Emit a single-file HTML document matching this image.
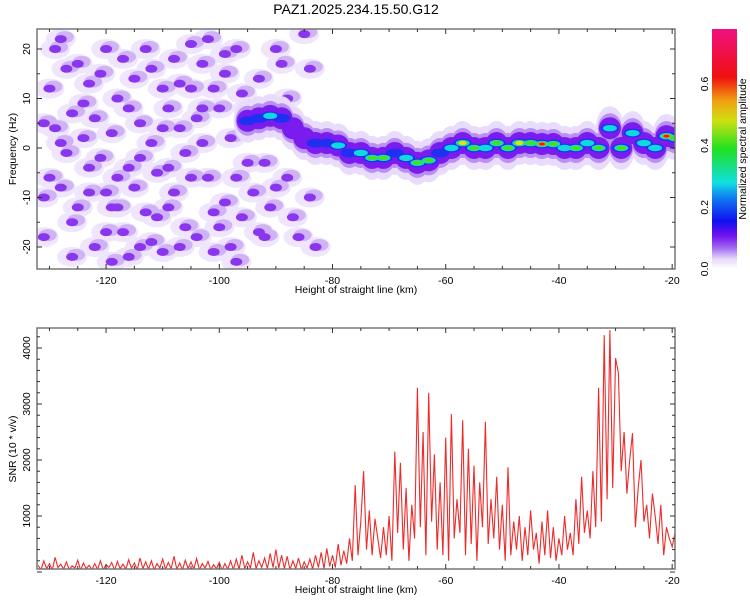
<!DOCTYPE html>
<html><head><meta charset="utf-8"><style>
html,body{margin:0;padding:0;background:#fff;}
svg{display:block;font-family:"Liberation Sans",sans-serif;}
</style></head><body>
<svg id="c" width="750" height="600" viewBox="0 0 750 600">
<defs>
<linearGradient id="cb" x1="0" y1="1" x2="0" y2="0">
<stop offset="0" stop-color="#ffffff"/><stop offset="0.04" stop-color="#e8dcfb"/>
<stop offset="0.09" stop-color="#a066f0"/><stop offset="0.14" stop-color="#7010f0"/>
<stop offset="0.2" stop-color="#1010f0"/><stop offset="0.3" stop-color="#1080f0"/>
<stop offset="0.36" stop-color="#10e0e0"/><stop offset="0.5" stop-color="#20e020"/>
<stop offset="0.62" stop-color="#d0e010"/><stop offset="0.7" stop-color="#f0a010"/>
<stop offset="0.8" stop-color="#f01010"/><stop offset="1" stop-color="#f01080"/>
</linearGradient>
<clipPath id="clipTop"><rect x="37" y="29" width="638" height="240"/></clipPath>
<clipPath id="clipBot"><rect x="37" y="328" width="638" height="241"/></clipPath>
</defs>
<text x="356" y="14" font-size="14" text-anchor="middle" fill="#000">PAZ1.2025.234.15.50.G12</text>
<g id="topPlot" clip-path="url(#clipTop)"></g>
<g id="botPlot" clip-path="url(#clipBot)"></g>
<g id="axes"></g>
<rect x="712" y="29" width="25" height="240" fill="url(#cb)"/>
<text transform="translate(746,149) rotate(-90)" font-size="10.5" text-anchor="middle">Normalized spectral amplitude</text>
<text transform="translate(16,149) rotate(-90)" font-size="10.5" text-anchor="middle">Frequency (Hz)</text>
<text x="356" y="293" font-size="10.5" text-anchor="middle">Height of straight line (km)</text>
<text transform="translate(16,449) rotate(-90)" font-size="10.5" text-anchor="middle">SNR (10 * v/v)</text>
<text x="356" y="593" font-size="10.5" text-anchor="middle">Height of straight line (km)</text>
</svg>
<script>
const xTicks=[-120,-100,-80,-60,-40,-20];
const freqTicks=[20,10,0,-10,-20];
const snrTicks=[1000,2000,3000,4000];
const cbTicks=[0.0,0.2,0.4,0.6];
const noiseKm=[-129,-127,-126,-125,-124,-123,-122,-121,-120,-119,-118,-117,-116,-115,-114,-113,-112,-111,-110,-109,-108,-107,-106,-105,-104,-103,-102,-101,-100,-99,-98,-97,-96,-95,-131,-130,-128,-126,-124,-119,-117,-115,-113,-110,-108,-106,-104,-102,-100,-98,-94,-93,-91,-89,-88,-86,-85,-84,-96,-121,-127,-111,-129,-123,-118,-114,-109,-103,-99,-92,
-131,-130,-128,-128,-126,-125,-123,-122,-120,-120,-118,-116,-116,-114,-112,-112,-110,-109,-107,-107,-105,-105,-103,-101,-101,-99,-97,-97,-95,-93,-92,-90,-90,-88,-87,-86,-84,-83,-131,-119];
const noiseHz=[20,-1,7,-12,9,-4,-20,15,-9,3,10,-17,-4,14,5,-13,1,-14,-21,8,-9,4,-1,12,-18,17,-6,-21,8,-11,2,20,-14,-3,-18,12,-8,-22,2,-23,18,-8,20,12,18,-16,6,22,-16,-20,-9,14,-12,17,-6,-18,23,-10,11,-2,16,-5,4,13,-12,-20,-4,8,15,-18,
5,-6,22,1,-15,17,-9,6,20,-17,-6,8,-22,-2,16,-19,4,-12,-20,13,-6,21,1,-13,12,19,-6,-23,8,-17,-3,20,-8,10,-14,3,16,-20,-10,-12];
const ridgeKm=[-95,-93,-91,-89,-87,-85,-83,-81,-79,-77,-75,-73,-71,-69,-67,-65,-63,-61,-59,-57,-55,-53,-51,-49,-47,-45,-43,-41,-39,-37,-35,-33,-31,-29,-27,-25,-23,-21,-19.5];
const ridgeHz=[5.5,6,6.5,6,4,2,1,1,0.5,-1,-1,-2,-2,-1,-2,-3,-2.5,-1,0,1,0,0,1,0,1,1,0.8,0.8,0,0,1,0,4,0,3,1,0,2.4,2];
const ridgeAmp=[0.25,0.2,0.35,0.25,0.15,0.15,0.2,0.25,0.3,0.25,0.35,0.45,0.45,0.25,0.3,0.45,0.45,0.25,0.35,0.5,0.4,0.35,0.45,0.4,0.5,0.45,0.75,0.45,0.35,0.45,0.3,0.45,0.3,0.45,0.3,0.35,0.3,0.7,0.4];
const snrStart=-132, snrStep=0.5;
const snr=[120,40,200,60,150,30,260,80,140,50,
180,40,110,70,210,30,160,60,120,40,
150,50,200,40,130,80,170,30,190,60,
140,50,220,70,160,40,250,60,180,50,
200,40,150,70,230,50,170,60,280,50,
160,40,210,60,180,50,240,40,150,70,
190,40,130,60,170,30,150,50,200,40,
230,50,300,60,180,70,350,60,200,80,
250,60,330,80,400,70,300,60,280,40,
200,60,250,40,180,70,230,50,300,80,
350,60,420,100,300,80,500,120,380,150,
600,200,1550,300,900,1800,400,1100,300,950,
600,250,800,300,1000,200,2150,700,1950,400,
1500,200,1200,600,3290,800,2500,300,3200,900,
2100,400,1600,300,2400,200,2820,600,1300,700,
2710,300,2200,500,1900,200,1600,800,2680,500,
1300,600,1700,400,1200,200,1870,300,900,400,
1000,200,800,300,1100,400,700,150,900,300,
1100,250,800,200,600,300,1000,400,700,300,
1300,500,1700,700,1100,600,1800,800,3290,900,
4230,1300,4320,1500,3820,3550,1800,2500,1400,2000,
2480,800,1500,2000,900,1200,600,1400,1000,500,
1200,300,800,600,450,700];

const NS='http://www.w3.org/2000/svg';
const X0=37,X1=675,KM0=-132.2,KM1=-19.5;
const x=k=>X0+(k-KM0)/(KM1-KM0)*(X1-X0);
const yF=h=>148-h*4.95;
const yS=v=>572-v*0.056;
const yC=a=>269-a/0.2*61.7;
function mk(tag,attrs,parent){const e=document.createElementNS(NS,tag);for(const k in attrs)e.setAttribute(k,attrs[k]);parent.appendChild(e);return e;}
const gTop=document.getElementById('topPlot'),gBot=document.getElementById('botPlot'),axes=document.getElementById('axes');

for(let i=0;i<noiseKm.length;i++){
 const e=mk('ellipse',{cx:x(noiseKm[i]),cy:yF(noiseHz[i]),rx:15,ry:10,fill:'#efe6fd'},gTop);
 
 
}
for(let i=0;i<noiseKm.length;i++){
 const e=mk('ellipse',{cx:x(noiseKm[i])+4,cy:yF(noiseHz[i])-2,rx:9,ry:6,fill:'#d0b2f7'},gTop);
 
 
}
for(let i=0;i<noiseKm.length;i++){
 const e=mk('ellipse',{cx:x(noiseKm[i]),cy:yF(noiseHz[i]),rx:6,ry:4,fill:'#8a35ee'},gTop);
 
 
}
const levels=[[0,'#e8dbfb',14,22],[0.05,'#bb90f3',12,15],[0.1,'#7a1cee',11,11],[0.2,'#2030f0',9,4.5],[0.28,'#10d8e0',7,3.2],[0.4,'#40e030',5.5,2.4],[0.5,'#e8e010',4,2],[0.6,'#f07010',3.5,1.8],[0.7,'#f01818',3,1.5]];
levels.forEach(([th,col,rx,ry])=>{
 for(let i=0;i<ridgeKm.length;i++){
  if(ridgeAmp[i]<th)continue;
  const e=mk('ellipse',{cx:x(ridgeKm[i]),cy:yF(ridgeHz[i]),rx:rx,ry:ry,fill:col},gTop);
  
  
 }
});
let d='';
snr.forEach((v,i)=>{d+=(i?'L':'M')+x(snrStart+i*snrStep).toFixed(1)+' '+yS(v).toFixed(1);});
const ln=mk('path',{d:d,fill:'none',stroke:'#ee2a2a','stroke-width':1.1},gBot);



function frame(y0,y1,name){
 const r=mk('rect',{x:X0,y:y0,width:X1-X0,height:y1-y0,fill:'none',stroke:'#777','stroke-width':1.5},axes);
 
 
 for(let k=-130;k<=-20;k+=5){
  const major=k%20===0;const L=major?5:3;
  mk('line',{x1:x(k),x2:x(k),y1:y1,y2:y1-L,stroke:'#333'},axes);
  mk('line',{x1:x(k),x2:x(k),y1:y0,y2:y0+L,stroke:'#333'},axes);
 }
 xTicks.forEach(k=>{
  const t=mk('text',{x:x(k),y:y1+15,'font-size':10.5,'text-anchor':'middle'},axes);
  t.textContent=k;
  
  
 });
}
frame(29,269,'top-plot-frame');
frame(328,569,'bottom-plot-frame');
for(let h=-20;h<=20;h+=5){mk('line',{x1:X0,x2:X0+(h%10===0?5:3),y1:yF(h),y2:yF(h),stroke:'#333'},axes);mk('line',{x1:X1,x2:X1-(h%10===0?5:3),y1:yF(h),y2:yF(h),stroke:'#333'},axes);}
freqTicks.forEach(h=>{
 const t=mk('text',{transform:`translate(30,${yF(h)}) rotate(-90)`,'font-size':10.5,'text-anchor':'middle'},axes);
 t.textContent=h;
 
 
});
for(let v=0;v<=4300;v+=200){mk('line',{x1:X0,x2:X0+(v%1000===0?5:3),y1:yS(v),y2:yS(v),stroke:'#333'},axes);mk('line',{x1:X1,x2:X1-(v%1000===0?5:3),y1:yS(v),y2:yS(v),stroke:'#333'},axes);}
snrTicks.forEach(v=>{
 const t=mk('text',{transform:`translate(30,${yS(v)}) rotate(-90)`,'font-size':10.5,'text-anchor':'middle'},axes);
 t.textContent=v;
 
 
});
cbTicks.forEach(a=>{
 const t=mk('text',{transform:`translate(708,${yC(a)}) rotate(-90)`,'font-size':10.5,'text-anchor':'middle'},axes);
 t.textContent=a.toFixed(1);
 
 
});
</script>
</body></html>
